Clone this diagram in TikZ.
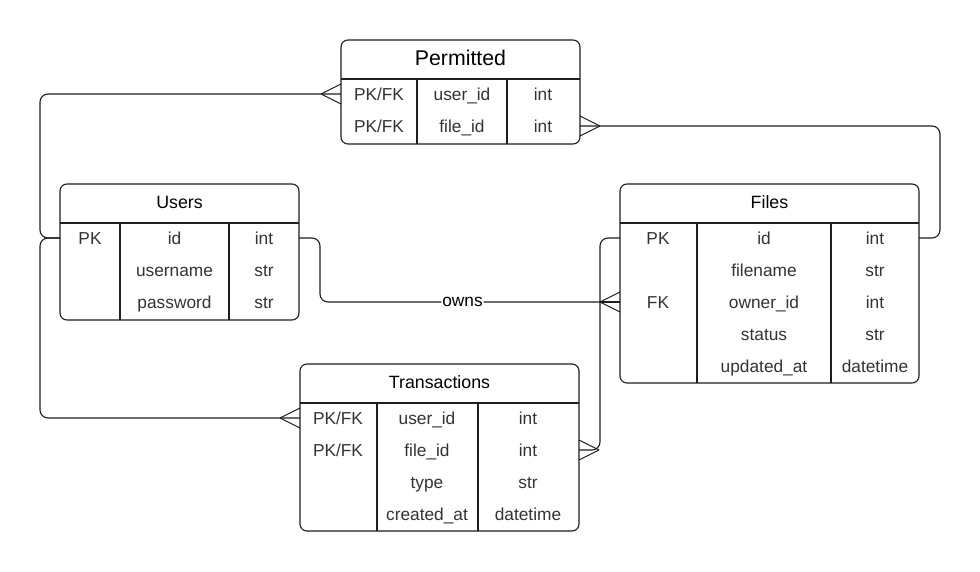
\documentclass[tikz,border=0pt]{standalone}
\usepackage{fontspec}
\setmainfont{Liberation Sans}
\definecolor{txt}{RGB}{51,51,51}
\definecolor{ln}{RGB}{30,30,30}
\begin{document}
\begin{tikzpicture}[x=1pt,y=-1pt,
  tbl/.style={draw=ln,line width=1.1pt,rounded corners=7pt,inner sep=0pt,fill=white},
  grid/.style={draw=ln,line width=1.1pt},
  rowtxt/.style={text=txt,font=\fontsize{17.3}{20}\selectfont,inner sep=0pt,anchor=base,yshift=-6.2pt},
  hdr/.style={text=black,font=\fontsize{17.8}{20}\selectfont,inner sep=0pt,anchor=base,yshift=-6.4pt},
  conn/.style={draw=ln,line width=1.1pt,rounded corners=8pt},
  foot/.style={draw=ln,line width=1.1pt}]
\useasboundingbox[fill=white] (0,0) rectangle (980,572);

% ---------- Permitted
\node[tbl,minimum width=239pt,minimum height=104pt] (perm) at (460.5,92) {};
\draw[grid] (341,79) -- (580,79) (417,79) -- (417,144) (507,79) -- (507,144);
\node[hdr,font=\fontsize{21.3}{24}\selectfont,yshift=-1pt] (permT) at (460.5,58) {Permitted};
\node[rowtxt] (p11) at (379,94) {PK/FK};
\node[rowtxt] (p12) at (462,94) {user\_id};
\node[rowtxt] (p13) at (543,94) {int};
\node[rowtxt] (p21) at (379,126) {PK/FK};
\node[rowtxt] (p22) at (462,126) {file\_id};
\node[rowtxt] (p23) at (543,126) {int};
\coordinate (puL) at (341,94);
\coordinate (pfR) at (580,126);

% ---------- Users
\node[tbl,minimum width=239pt,minimum height=136pt] (users) at (179.5,252) {};
\draw[grid] (60,223) -- (299,223) (120,223) -- (120,320) (229,223) -- (229,320);
\node[hdr] (usersT) at (179.5,202) {Users};
\node[rowtxt] (u11) at (90,238) {PK};
\node[rowtxt] (u12) at (174.5,238) {id};
\node[rowtxt] (u13) at (264,238) {int};
\node[rowtxt] (u22) at (174.5,270) {username};
\node[rowtxt] (u23) at (264,270) {str};
\node[rowtxt] (u32) at (174.5,302) {password};
\node[rowtxt] (u33) at (264,302) {str};
\coordinate (uidL) at (60,238);
\coordinate (uidR) at (299,238);

% ---------- Files
\node[tbl,minimum width=299pt,minimum height=199pt] (files) at (769.5,283.5) {};
\draw[grid] (620,223) -- (919,223) (697,223) -- (697,383) (831,223) -- (831,383);
\node[hdr] (filesT) at (769.5,202) {Files};
\node[rowtxt] (f11) at (658,238) {PK};
\node[rowtxt] (f12) at (764,238) {id};
\node[rowtxt] (f13) at (875,238) {int};
\node[rowtxt] (f22) at (764,270) {filename};
\node[rowtxt] (f23) at (875,270) {str};
\node[rowtxt] (f31) at (658,302) {FK};
\node[rowtxt] (f32) at (764,302) {owner\_id};
\node[rowtxt] (f33) at (875,302) {int};
\node[rowtxt] (f42) at (764,334) {status};
\node[rowtxt] (f43) at (875,334) {str};
\node[rowtxt] (f52) at (764,366) {updated\_at};
\node[rowtxt] (f53) at (875,366) {datetime};
\coordinate (fidL) at (620,238);
\coordinate (fidR) at (919,238);
\coordinate (fownL) at (620,302);

% ---------- Transactions
\node[tbl,minimum width=279pt,minimum height=167pt] (trans) at (439.5,447.5) {};
\draw[grid] (300,403) -- (579,403) (377,403) -- (377,531) (478,403) -- (478,531);
\node[hdr] (transT) at (439.5,382) {Transactions};
\node[rowtxt] (t11) at (338,418) {PK/FK};
\node[rowtxt] (t12) at (427,418) {user\_id};
\node[rowtxt] (t13) at (528,418) {int};
\node[rowtxt] (t21) at (338,450) {PK/FK};
\node[rowtxt] (t22) at (427,450) {file\_id};
\node[rowtxt] (t23) at (528,450) {int};
\node[rowtxt] (t32) at (427,482) {type};
\node[rowtxt] (t33) at (528,482) {str};
\node[rowtxt] (t42) at (427,514) {created\_at};
\node[rowtxt] (t43) at (528,514) {datetime};
\coordinate (tuL) at (300,418);
\coordinate (tfR) at (579,450);

% ---------- connectors
\draw[conn] (uidL) -- ++(-20,0) |- (puL);
\draw[conn] (uidL) -- ++(-20,0) |- (tuL);
\draw[conn] (uidR) -- ++(21,0) |- (fownL)
  node[pos=0.7375,fill=white,inner sep=1pt,text=black,font=\fontsize{17.3}{20}\selectfont] (owns) {owns};
\draw[conn] (fidL) -- ++(-20,0) |- (tfR);
\draw[conn] (fidR) -- ++(21,0) |- (pfR);

% ---------- crow's feet
\draw[foot] (puL) ++(-20,0) -- ++(20,-10) (puL) ++(-20,0) -- ++(20,10);
\draw[foot] (tuL) ++(-20,0) -- ++(20,-10) (tuL) ++(-20,0) -- ++(20,10);
\draw[foot] (fownL) ++(-20,0) -- ++(20,-10) (fownL) ++(-20,0) -- ++(20,10);
\draw[foot,line width=2pt] (fownL) -- ++(-20,0);
\draw[foot] (pfR) ++(20,0) -- ++(-20,-10) (pfR) ++(20,0) -- ++(-20,10);
\draw[foot] (tfR) ++(20,0) -- ++(-20,-10) (tfR) ++(20,0) -- ++(-20,10);
\end{tikzpicture}
\end{document}
